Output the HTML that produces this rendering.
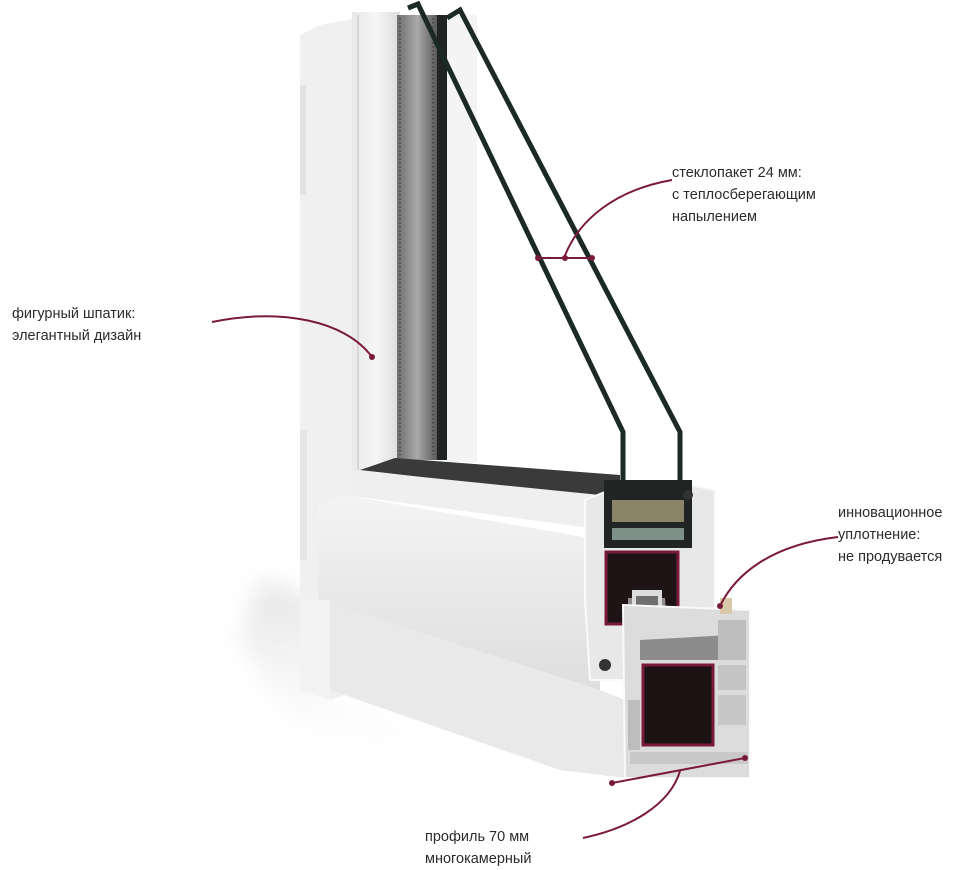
<!DOCTYPE html>
<html><head><meta charset="utf-8"><style>
html,body{margin:0;padding:0;background:#fff;}
body{width:972px;height:866px;position:relative;overflow:hidden;font-family:"Liberation Sans",sans-serif;}
.t{position:absolute;font-size:14.5px;line-height:22px;color:#2b2b2b;}
svg{position:absolute;left:0;top:0;}
</style></head><body>
<svg width="972" height="866" viewBox="0 0 972 866">
<defs>
<linearGradient id="sh" x1="0" y1="0" x2="0.3" y2="1"><stop offset="0" stop-color="#d6d6d6"/><stop offset="1" stop-color="#fff" stop-opacity="0"/></linearGradient>
<filter id="bl"><feGaussianBlur stdDeviation="12"/></filter>
<linearGradient id="col" x1="0" y1="0" x2="1" y2="0"><stop offset="0" stop-color="#e8e8e8"/><stop offset="0.5" stop-color="#f6f6f6"/><stop offset="1" stop-color="#dcdcdc"/></linearGradient>
<linearGradient id="spc" x1="0" y1="0" x2="1" y2="0"><stop offset="0" stop-color="#6d6d6d"/><stop offset="0.5" stop-color="#a9a9a9"/><stop offset="1" stop-color="#5a5a5a"/></linearGradient>
<linearGradient id="sill" x1="0" y1="0" x2="0" y2="1"><stop offset="0" stop-color="#f4f4f4"/><stop offset="1" stop-color="#dedede"/></linearGradient>
</defs>
<!-- shadow -->
<polygon points="260,580 320,600 330,700 620,790 560,795 290,720 240,640" fill="url(#sh)" filter="url(#bl)" opacity="0.7"/>
<!-- outer frame left -->
<polygon points="300,35 320,25 358,18 358,690 330,700 300,690" fill="#f0f0f0"/>
<rect x="300" y="85" width="6" height="110" fill="#e2e2e2"/>
<rect x="300" y="430" width="7" height="130" fill="#e6e6e6"/>
<!-- sash column -->
<rect x="352" y="12" width="48" height="460" fill="url(#col)"/>
<line x1="358" y1="15" x2="358" y2="470" stroke="#cfcfcf" stroke-width="1.5"/>
<!-- spacer -->
<rect x="397" y="15" width="40" height="445" fill="url(#spc)"/>
<line x1="400" y1="18" x2="400" y2="455" stroke="#444" stroke-width="1.5" stroke-dasharray="1.5 2.5"/>
<line x1="433" y1="18" x2="433" y2="455" stroke="#444" stroke-width="1.5" stroke-dasharray="1.5 2.5"/>
<rect x="437" y="15" width="10" height="445" fill="#1f2422"/>
<rect x="447" y="15" width="30" height="447" fill="#f4f4f4"/>
<!-- sash bottom rail -->
<polygon points="395,458 620,475 620,500 360,470" fill="#3a3a3a"/>
<polygon points="352,470 620,497 620,520 605,530 345,495" fill="#efefef"/>
<!-- sill large face -->
<polygon points="345,495 600,540 600,690 318,600 318,505" fill="url(#sill)"/>
<polygon points="318,600 600,690 625,700 625,778 560,770 330,690" fill="#e9e9e9"/>
<polygon points="300,690 330,700 330,600 318,600 300,600" fill="#f3f3f3"/>
<!-- glass lines -->
<polyline points="408,8 418,4 623,432 623,482" fill="none" stroke="#1c2a24" stroke-width="5"/>
<polyline points="447,18 460,10 680,432 680,482" fill="none" stroke="#1c2a24" stroke-width="5"/>
<!-- cross section sash -->
<polygon points="585,500 610,490 690,485 715,490 715,615 700,620 700,680 590,680 585,600" fill="#e8e8e8" stroke="#fafafa" stroke-width="2"/>
<rect x="604" y="480" width="88" height="68" fill="#202422"/>
<rect x="612" y="500" width="72" height="22" fill="#8a8468"/>
<rect x="612" y="528" width="72" height="12" fill="#7f9088"/>
<rect x="606" y="552" width="72" height="72" fill="#1e1416" stroke="#7a1a3a" stroke-width="3"/>
<polygon points="628,598 665,598 668,640 710,640 710,610 740,610 740,650 628,650" fill="#8e8e8e"/>
<rect x="632" y="590" width="30" height="30" fill="#dcdcdc"/>
<rect x="636" y="596" width="22" height="20" fill="#6f6f6f"/>
<!-- frame section -->
<polygon points="623,605 750,610 750,778 625,778" fill="#dcdcdc" stroke="#fafafa" stroke-width="2"/>
<polygon points="640,640 730,635 730,660 640,660" fill="#8c8c8c"/>
<rect x="643" y="665" width="70" height="80" fill="#1b1214" stroke="#7a1a3a" stroke-width="3"/>
<rect x="718" y="620" width="28" height="40" fill="#bdbdbd"/>
<rect x="718" y="665" width="28" height="25" fill="#c4c4c4"/>
<rect x="718" y="695" width="28" height="30" fill="#c6c6c6"/>
<rect x="628" y="700" width="12" height="50" fill="#bdbdbd"/>
<rect x="630" y="752" width="118" height="12" fill="#c8c8c8"/>
<circle cx="605" cy="665" r="6" fill="#333"/>
<circle cx="688" cy="495" r="5" fill="#333"/>
<rect x="720" y="598" width="12" height="16" fill="#d8c8a8"/>
<!-- connectors -->
<g stroke="#7a1a3a" stroke-width="2" fill="none">
<path d="M672,180 C615,190 578,220 564,258"/>
<line x1="538" y1="258" x2="592" y2="258"/>
<path d="M212,322 C280,308 345,320 372,357"/>
<path d="M838,537 C770,545 735,575 720,606"/>
<line x1="612" y1="783" x2="745" y2="758"/>
<path d="M680,771 C670,805 630,828 583,838"/>
</g>
<g fill="#7a1a3a">
<circle cx="538" cy="258" r="3"/><circle cx="565" cy="258" r="3"/><circle cx="592" cy="258" r="3"/>
<circle cx="372" cy="357" r="3"/><circle cx="720" cy="606" r="3"/>
<circle cx="612" cy="783" r="3"/><circle cx="745" cy="758" r="3"/>
</g>
</svg>
<div class="t" style="left:672px;top:162px;">стеклопакет 24 мм:<br>с теплосберегающим<br>напылением</div>
<div class="t" style="left:12px;top:303px;">фигурный шпатик:<br>элегантный дизайн</div>
<div class="t" style="left:838px;top:502px;">инновационное<br>уплотнение:<br>не продувается</div>
<div class="t" style="left:425px;top:826px;">профиль 70 мм<br>многокамерный</div>
</body></html>
